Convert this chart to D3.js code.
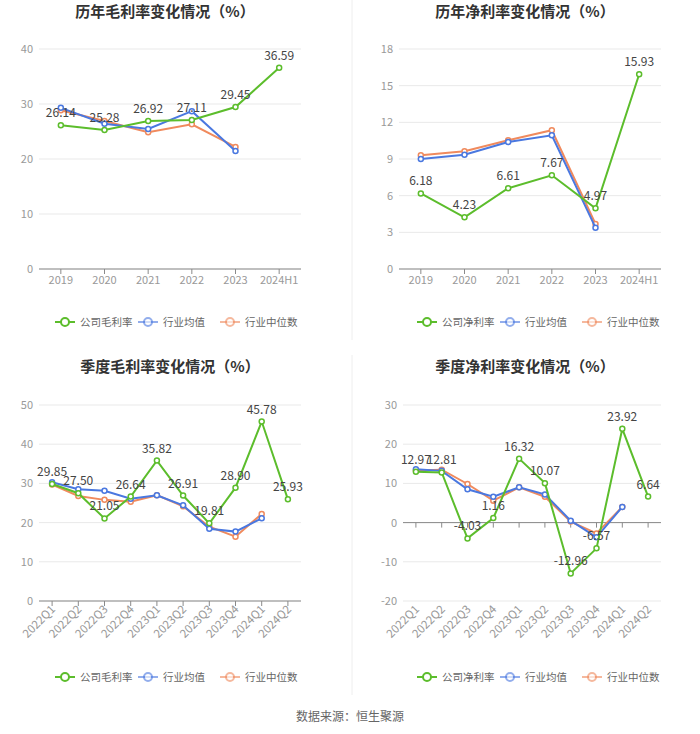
<!DOCTYPE html>
<html><head><meta charset="utf-8">
<script src="https://cdn.jsdelivr.net/npm/d3@7/dist/d3.min.js"></script>
<style>body{margin:0;background:#fff;}svg{display:block;font-family:"Noto Sans CJK SC","Noto Sans",sans-serif;}</style>
</head><body>
<script>
const yearCats = ["2019","2020","2021","2022","2023","2024H1"];
const quarterCats = ["2022Q1","2022Q2","2022Q3","2022Q4","2023Q1","2023Q2","2023Q3","2023Q4","2024Q1","2024Q2"];

const grossYearCompany = [26.14,25.28,26.92,27.11,29.45,36.59];
const grossYearAvg = [29.3,26.4,25.45,28.7,21.45,null];
const grossYearMedian = [28.85,26.9,24.85,26.3,22.2,null];

const netYearCompany = [6.18,4.23,6.61,7.67,4.97,15.93];
const netYearAvg = [9.0,9.35,10.39,10.94,3.38,null];
const netYearMedian = [9.3,9.63,10.53,11.35,3.68,null];

const grossQCompany = [29.85,27.50,21.05,26.64,35.82,26.91,19.81,28.90,45.78,25.93];
const grossQAvg = [30.3,28.5,28.1,26.1,26.95,24.4,18.45,17.7,21.1,null];
const grossQMedian = [29.7,26.8,25.8,25.35,27.0,24.15,18.95,16.4,22.2,null];

const netQCompany = [12.97,12.81,-4.03,1.16,16.32,10.07,-12.96,-6.57,23.92,6.64];
const netQAvg = [13.6,13.2,8.5,6.6,9.0,7.2,0.5,-3.75,4.0,null];
const netQMedian = [13.3,13.5,9.85,5.6,9.0,6.6,0.25,-2.75,4.0,null];

const yTicks1 = [0,10,20,30,40];
const yTicks2 = [0,3,6,9,12,15,18];
const yTicks3 = [0,10,20,30,40,50];
const yTicks4 = [-20,-10,0,10,20,30];

const colors = {company:"#5cbd2c", avg:"#4a78e0", median:"#f08a5d"};

const W=700,H=734;
const svg = d3.select("body").append("svg").attr("width",W).attr("height",H);

// separator
svg.append("line").attr("x1",352).attr("x2",352).attr("y1",0).attr("y2",340).attr("stroke","#eeeeee");
svg.append("line").attr("x1",352).attr("x2",352).attr("y1",355).attr("y2",695).attr("stroke","#eeeeee");

function chart(o){
  const g = svg.append("g");
  const x = d3.scaleBand().domain(o.cats).range([o.x0,o.x1]);
  const y = d3.scaleLinear().domain([o.ticks[0],o.ticks[o.ticks.length-1]]).range([o.y1,o.y0]);
  g.append("text").attr("x",o.tx).attr("y",o.ty).attr("text-anchor","middle")
    .attr("font-size",15).attr("font-weight","bold").attr("fill","#333").text(o.title);
  o.ticks.forEach(t=>{
    g.append("line").attr("x1",o.x0).attr("x2",o.x1).attr("y1",y(t)).attr("y2",y(t)).attr("stroke","#e9e9e9");
    g.append("text").attr("x",o.x0-6).attr("y",y(t)+4).attr("text-anchor","end")
      .attr("font-size",11).attr("fill","#999").text(t);
  });
  const axisY = y(Math.max(0,o.ticks[0]));
  g.append("line").attr("x1",o.x0).attr("x2",o.x1).attr("y1",axisY).attr("y2",axisY).attr("stroke","#8a8a8a");
  o.cats.forEach(c=>{
    const cx = x(c)+x.bandwidth()/2;
    g.append("line").attr("x1",cx).attr("x2",cx).attr("y1",axisY).attr("y2",axisY+5).attr("stroke","#8a8a8a");
    if(o.rotate){
      g.append("text").attr("transform",`translate(${cx+4},${o.y1+9}) rotate(-45)`)
        .attr("text-anchor","end").attr("font-size",11.5).attr("fill","#999").text(c);
    } else {
      g.append("text").attr("x",cx).attr("y",o.y1+15).attr("text-anchor","middle")
        .attr("font-size",11).attr("fill","#999").text(c);
    }
  });
  const series = [
    {data:o.median,color:colors.median},
    {data:o.avg,color:colors.avg},
    {data:o.company,color:colors.company}
  ];
  const line = d3.line().defined(d=>d!=null).x((d,i)=>x(o.cats[i])+x.bandwidth()/2).y(d=>y(d));
  series.forEach(s=>{
    g.append("path").attr("d",line(s.data)).attr("fill","none").attr("stroke",s.color).attr("stroke-width",2);
    s.data.forEach((d,i)=>{
      if(d==null) return;
      g.append("circle").attr("cx",x(o.cats[i])+x.bandwidth()/2).attr("cy",y(d)).attr("r",2.5)
        .attr("fill","#fff").attr("stroke",s.color).attr("stroke-width",1.5);
    });
  });
  o.company.forEach((d,i)=>{
    g.append("text").attr("x",x(o.cats[i])+x.bandwidth()/2).attr("y",y(d)-8).attr("text-anchor","middle")
      .attr("font-size",12).attr("fill","#444").text(d.toFixed(2));
  });
  const items=[[o.legend,colors.company],["行业均值",colors.avg],["行业中位数",colors.median]];
  const offs=[0,83,165];
  items.forEach(([t,c],k)=>{
    const lx=o.lx+offs[k];
    g.append("line").attr("x1",lx).attr("x2",lx+20).attr("y1",o.ly).attr("y2",o.ly).attr("stroke",c).attr("stroke-width",2).attr("opacity",k?0.6:1);
    g.append("circle").attr("cx",lx+10).attr("cy",o.ly).attr("r",4).attr("fill","#fff").attr("stroke",c).attr("stroke-width",2).attr("opacity",k?0.6:1);
    g.append("text").attr("x",lx+25).attr("y",o.ly+4).attr("font-size",10.5).attr("fill","#666").text(t);
  });
}

chart({title:"历年毛利率变化情况（%）",tx:165,ty:17,cats:yearCats,x0:39,x1:301,y0:49,y1:269,ticks:yTicks1,
  company:grossYearCompany,avg:grossYearAvg,median:grossYearMedian,legend:"公司毛利率",lx:55,ly:322});
chart({title:"历年净利率变化情况（%）",tx:525,ty:17,cats:yearCats,x0:399,x1:661,y0:49,y1:269,ticks:yTicks2,
  company:netYearCompany,avg:netYearAvg,median:netYearMedian,legend:"公司净利率",lx:417,ly:322});
chart({title:"季度毛利率变化情况（%）",tx:170,ty:372,cats:quarterCats,x0:39,x1:301,y0:405,y1:601,ticks:yTicks3,rotate:true,
  company:grossQCompany,avg:grossQAvg,median:grossQMedian,legend:"公司毛利率",lx:55,ly:677});
chart({title:"季度净利率变化情况（%）",tx:525,ty:372,cats:quarterCats,x0:403,x1:661,y0:405,y1:601,ticks:yTicks4,rotate:true,
  company:netQCompany,avg:netQAvg,median:netQMedian,legend:"公司净利率",lx:417,ly:677});

svg.append("text").attr("x",350).attr("y",721).attr("text-anchor","middle").attr("font-size",12).attr("fill","#666").text("数据来源：恒生聚源");
</script>
</body></html>
